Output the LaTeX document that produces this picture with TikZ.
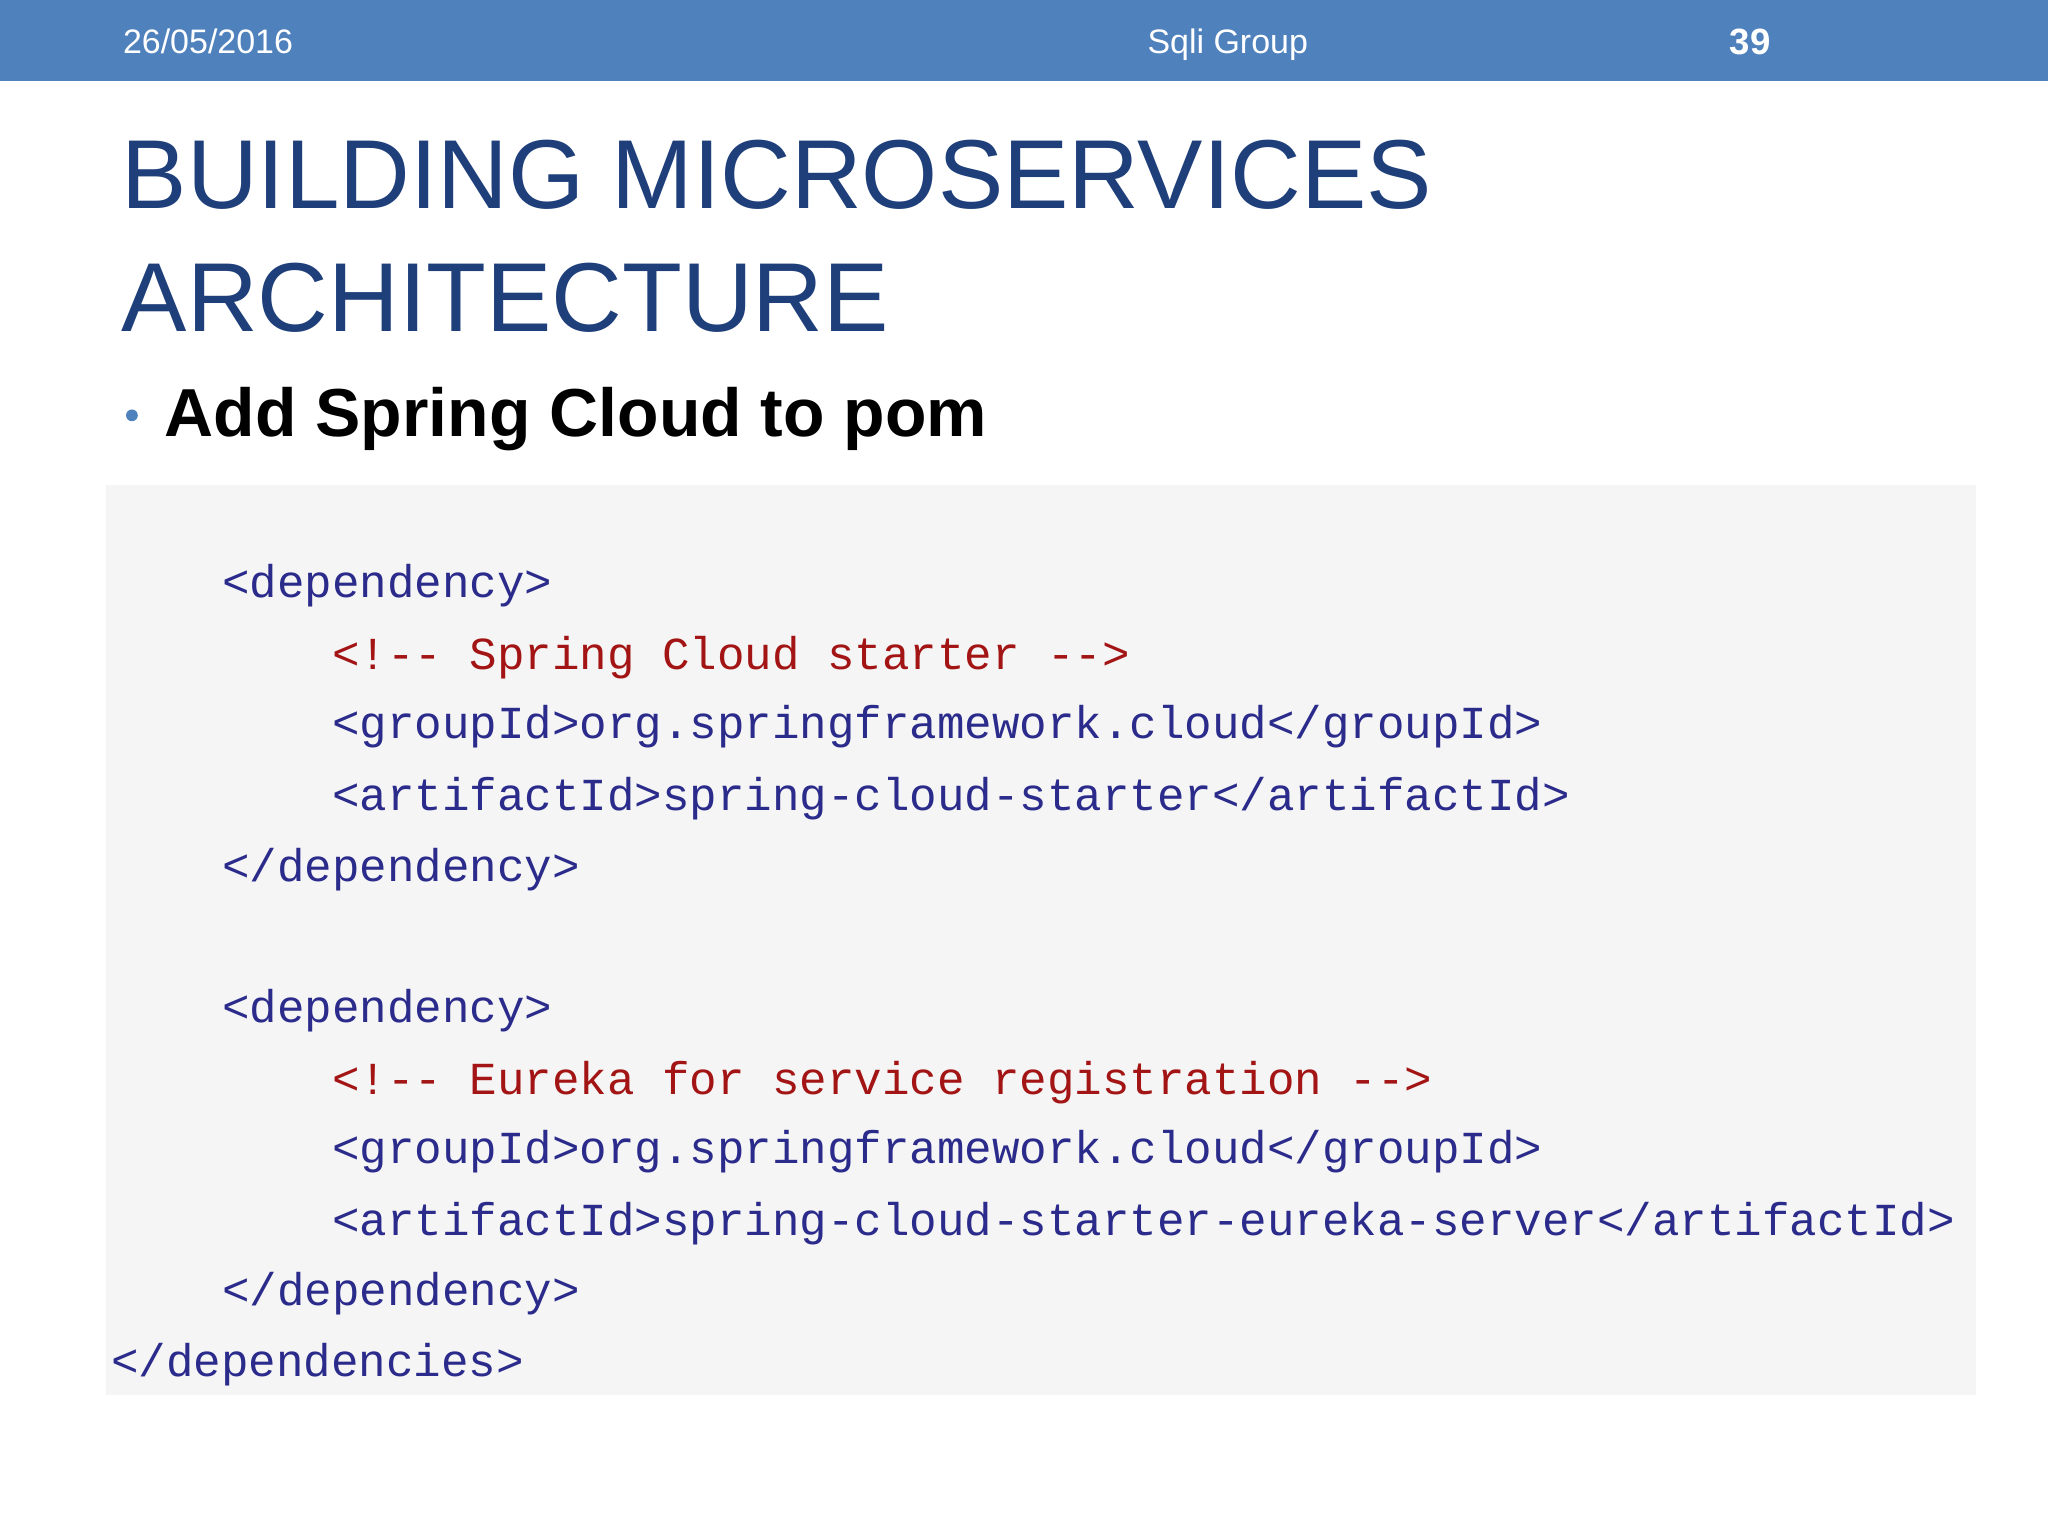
\documentclass[tikz,border=0pt]{standalone}
\usepackage{fontspec}
\setmainfont{Liberation Sans}
\newfontfamily\codefont{Liberation Mono}
\definecolor{hdr}{HTML}{4F81BD}
\definecolor{ttl}{HTML}{1F3F7A}
\definecolor{tag}{HTML}{2B2B8C}
\definecolor{cmt}{HTML}{A31515}
\definecolor{codebg}{HTML}{F5F5F5}
\begin{document}
\begin{tikzpicture}[x=1pt,y=-1pt,
  hd/.style={text=white,font=\fontsize{26}{30}\selectfont,inner sep=0,anchor=base},
  code/.style={anchor=mid west,inner sep=0,font=\codefont\fontsize{35.1}{40}\selectfont,text=tag},
  comment/.style={code,text=cmt}]
\useasboundingbox (0,0) rectangle (1568,1176);
\fill[white] (0,0) rectangle (1568,1176);
\fill[hdr] (0,0) rectangle (1568,62);
\node[hd,anchor=base west] (date) at (94,41) {26/05/2016};
\node[hd] (grp) at (940,41) {Sqli Group};
\node[hd,font=\bfseries\fontsize{28}{30}\selectfont] (pg) at (1340,42) {39};
\node[anchor=base west,inner sep=0,text=ttl,font=\fontsize{75}{90}\selectfont] (t1) at (93,160) {BUILDING MICROSERVICES};
\node[anchor=base west,inner sep=0,text=ttl,font=\fontsize{75}{90}\selectfont] (t2) at (93,254) {ARCHITECTURE};
\fill[hdr] (101,318) circle (4.5);
\node[anchor=base west,inner sep=0,font=\bfseries\fontsize{52}{60}\selectfont] (b) at (126,334) {Add Spring Cloud to pom};
\fill[codebg] (81,371) rectangle (1513,1068);
\node[code] (l1) at (170,455) {<dependency>};
\node[comment] (l2) at (254,510) {<!-- Spring Cloud starter -->};
\node[code] (l3) at (254,563) {<groupId>org.springframework.cloud</groupId>};
\node[code] (l4) at (254,618) {<artifactId>spring-cloud-starter</artifactId>};
\node[code] (l5) at (170,672) {</dependency>};
\node[code] (l6) at (170,780) {<dependency>};
\node[comment] (l7) at (254,835) {<!-- Eureka for service registration -->};
\node[code] (l8) at (254,888) {<groupId>org.springframework.cloud</groupId>};
\node[code] (l9) at (254,943) {<artifactId>spring-cloud-starter-eureka-server</artifactId>};
\node[code] (l10) at (170,997) {</dependency>};
\node[code] (l11) at (85,1051) {</dependencies>};
\end{tikzpicture}
\end{document}
